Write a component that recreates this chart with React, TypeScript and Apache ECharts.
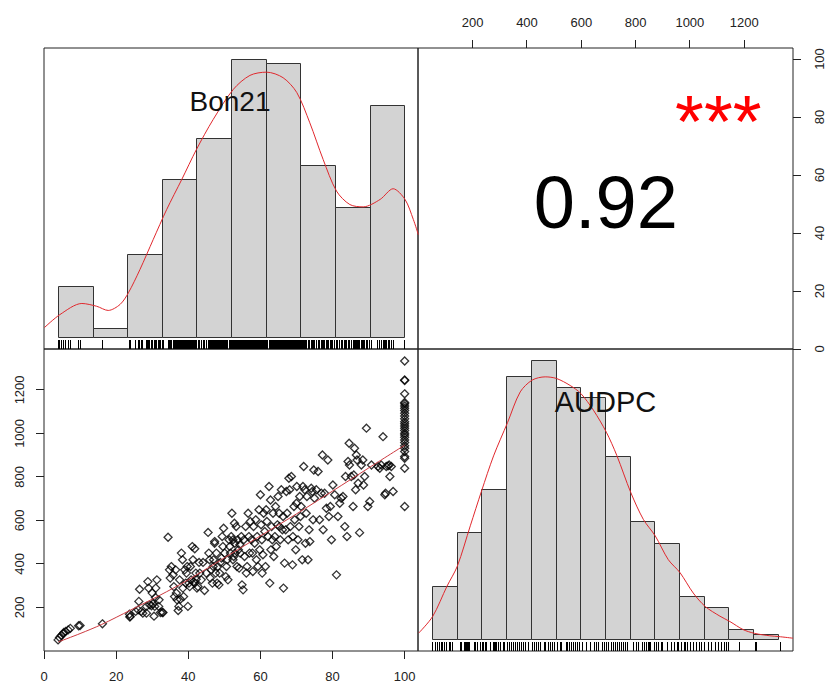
import React, { useEffect, useRef } from "react";
import * as echarts from "echarts";

// ---------- data ----------
const bon21Ticks = [0, 20, 40, 60, 80, 100];
const audpcTicks = [200, 400, 600, 800, 1000, 1200];

const bon21Breaks = [4, 13.6, 23.2, 32.8, 42.4, 52, 61.6, 71.2, 80.8, 90.4, 100];
const bon21Counts = [11, 2, 18, 34, 43, 60, 59, 37, 28, 50];

const audpcBreaks = [52, 143, 234, 325, 416, 507, 598, 689, 780, 871, 962, 1053, 1144, 1235, 1327];
const audpcCounts = [10, 20, 28, 49, 52, 47, 45, 34, 22, 18, 8, 6, 2, 1];

// density curves, scaled to histogram counts
const bon21Density: [number, number][] = [
  [0.1, 2.2], [4.4, 5.0], [10.5, 7.4], [14.6, 6.8], [17.8, 5.9], [21.1, 7.2], [23.4, 9.7],
  [26.6, 14.7], [30.3, 21.2], [34.0, 27.6], [38.2, 34.1], [42.3, 40.6], [46.9, 47.0],
  [52.5, 53.5], [57.1, 56.5], [61.7, 57.2], [66.3, 56.0], [70.1, 52.8], [73.7, 46.3],
  [77.4, 38.4], [81.1, 31.6], [84.8, 28.7], [88.5, 28.2], [93.2, 29.8], [96.8, 32.1],
  [100.1, 29.8], [102.4, 25.5], [103.8, 22.2],
];
const audpcDensity: [number, number][] = [
  [1, 1.25], [52.6, 4.35], [105.6, 10.0], [143.4, 13.7], [191.2, 21.2], [232.8, 27.7],
  [276.9, 34.2], [328.4, 40.4], [375.1, 46.1], [419.3, 48.3], [467.1, 48.9], [508.6, 48.6],
  [559, 47.3], [598.4, 45.8], [644.7, 42.7], [692.5, 38.6], [730.8, 34.3], [782.3, 27.4],
  [828.6, 22.4], [872.8, 19.3], [920.6, 14.9], [963.6, 12.5], [1012.5, 8.7], [1056.6, 6.2],
  [1110.7, 4.4], [1147.5, 3.4], [1196.4, 1.9], [1238.3, 1.2], [1294.6, 0.75], [1327.7, 0.6],
  [1380, 0.3],
];

// scatter: [Bon21, AUDPC]
const audpcVsBon21: [number, number][] = [
  [3.9, 51], [4.3, 62], [4.8, 71], [5.3, 79], [5.5, 85], [6.0, 90], [6.7, 97], [7.3, 104],
  [9.6, 116], [10.0, 117], [16.2, 125], [23.7, 169], [23.8, 156], [23.9, 159],
  [25.4, 182], [26.1, 189], [26.3, 228], [26.5, 284], [27.0, 182], [27.4, 174], [28.4, 174],
  [28.4, 205], [28.8, 319], [29.0, 289], [29.3, 212], [29.8, 208], [30.0, 266], [30.2, 217],
  [30.5, 160], [30.7, 205], [30.9, 246], [31.0, 289], [31.3, 327], [31.8, 205], [31.9, 235],
  [32.3, 177], [32.8, 177], [33.0, 177], [34.4, 523], [34.8, 373], [35.0, 335],
  [35.3, 388], [35.8, 350], [36.0, 296], [36.2, 250], [36.5, 373], [36.7, 266], [36.9, 235],
  [37.2, 186], [37.4, 205], [37.6, 327], [37.8, 238], [38.1, 450], [38.4, 419], [38.5, 289],
  [38.7, 250], [39.0, 373], [39.3, 312], [39.5, 358], [39.7, 388], [39.9, 205], [40.2, 312],
  [40.4, 296], [40.6, 388], [40.8, 327], [41.1, 480], [41.3, 419], [41.5, 319], [41.8, 470],
  [41.8, 312], [42.1, 358], [42.2, 330], [42.4, 289], [42.7, 296], [43.0, 407], [43.2, 358],
  [43.6, 327], [44.1, 407], [44.5, 278], [45.0, 358],
  [45.5, 545], [45.7, 450], [45.9, 419], [46.1, 335], [46.4, 373], [46.7, 312], [46.9, 388],
  [47.0, 419], [47.3, 495], [47.3, 503], [47.6, 358], [47.8, 450], [48.0, 312], [48.2, 388],
  [48.5, 304], [48.7, 358], [48.9, 407], [49.2, 427], [49.4, 526], [49.6, 480], [49.8, 564],
  [50.1, 450], [50.4, 342], [50.6, 388], [50.8, 419], [51.0, 327], [51.3, 511], [51.5, 480],
  [51.7, 450], [51.9, 526], [52.1, 633], [52.4, 511], [52.4, 419], [52.6, 434], [52.8, 587],
  [52.9, 495], [53.0, 450], [53.3, 572], [53.5, 388], [53.7, 511], [53.9, 465], [54.1, 381],
  [54.3, 488], [54.4, 450], [54.7, 526], [54.9, 304],
  [55.2, 281], [55.4, 511], [55.6, 434], [55.9, 572], [56.1, 358], [56.3, 388], [56.6, 633],
  [56.8, 526], [57.0, 450], [57.2, 595], [57.5, 511], [57.8, 450], [57.9, 365], [58.1, 572],
  [58.4, 495], [58.7, 603], [58.9, 419], [59.1, 526], [59.3, 388], [59.6, 649], [59.8, 465],
  [60.0, 718], [60.2, 580], [60.4, 511], [60.5, 358], [60.7, 442], [60.9, 633], [61.2, 549],
  [61.4, 388], [61.6, 649], [61.8, 595], [62.1, 526], [62.4, 756], [62.6, 312], [62.8, 694],
  [62.9, 465], [63.1, 572], [63.3, 511], [63.5, 633], [63.7, 434], [64.0, 526], [64.2, 664],
  [64.4, 480], [64.7, 580], [64.9, 710],
  [65.2, 633], [65.3, 572], [65.5, 511], [65.8, 741], [66.1, 557], [66.3, 618], [66.4, 289],
  [66.7, 404], [67.0, 557], [67.2, 733], [67.4, 633], [67.7, 511], [67.9, 794], [68.1, 741],
  [68.3, 572], [68.6, 802], [68.9, 396], [69.0, 526], [69.3, 664], [69.5, 603], [69.8, 465],
  [70.0, 679], [70.1, 756], [70.4, 511], [70.7, 572], [70.9, 710], [71.1, 618], [71.3, 664],
  [71.6, 419], [71.8, 756], [72.0, 848], [72.3, 741], [72.5, 495], [72.7, 633], [72.9, 710],
  [73.2, 419], [73.5, 557], [73.7, 503], [74.1, 748], [74.4, 733], [74.6, 603], [74.8, 832],
  [75.0, 702], [75.5, 741], [76.0, 825], [76.4, 603], [76.9, 725], [77.2, 901], [77.4, 557],
  [77.8, 725], [78.3, 656], [78.7, 878], [79.0, 618], [79.4, 664], [79.7, 511], [80.1, 763],
  [80.6, 718], [81.1, 350], [81.5, 618], [82.0, 679], [82.4, 702], [82.9, 710], [83.4, 572],
  [83.6, 802], [84.0, 526], [84.3, 871], [84.6, 955], [84.7, 855],
  [85.2, 802], [85.7, 664], [85.9, 809], [86.1, 932], [86.4, 741], [86.6, 901], [86.8, 878],
  [87.1, 771], [87.5, 544], [88.0, 855], [88.4, 878], [88.6, 763], [88.9, 802], [89.4, 1024],
  [89.8, 664], [90.3, 687], [90.8, 855], [92.6, 848], [93.1, 840], [93.5, 855], [94.0, 985],
  [94.5, 718], [94.7, 725], [94.9, 848], [95.4, 851], [95.7, 855], [95.9, 802], [96.3, 848],
  [96.8, 733],
  [100, 1333], [100, 1246], [100, 1243], [100, 1182], [100, 1142], [100, 1136], [100, 1126],
  [100, 1116], [100, 1105], [100, 1093], [100, 1080], [100, 1067], [100, 1054], [100, 1044],
  [100, 1034], [100, 1024], [100, 1013], [100, 1001], [100, 993], [100, 982], [100, 970],
  [100, 958], [100, 943], [100, 932], [100, 917], [100, 894], [100, 886], [100, 840], [100, 664],
];

// local smoother through the scatter
const smoothLine: [number, number][] = [
  [4, 42], [10, 80], [16, 122], [24, 188], [32, 255], [40, 327], [50, 428], [60, 529],
  [70, 630], [80, 735], [90, 841], [100, 946],
];

const varNames = ["Bon21", "AUDPC"];
const corrText = "0.92";
const signifText = "***";

// ---------- chart ----------
const FONT = '"Liberation Sans", Arial, Helvetica, sans-serif';
const bon21Values = audpcVsBon21.map((p) => p[0]);
const audpcValues = audpcVsBon21.map((p) => p[1]);

const crisp = (v: number) => Math.round(v - 0.5) + 0.5;

function histSeries(breaks: number[], counts: number[], axisIndex: number) {
  return {
    type: "custom",
    xAxisIndex: axisIndex,
    yAxisIndex: axisIndex,
    data: counts.map((c, i) => [breaks[i], breaks[i + 1], c]),
    encode: { x: [0, 1], y: 2 },
    silent: true,
    renderItem: (_params: any, api: any) => {
      const p0 = api.coord([api.value(0), 0]);
      const p1 = api.coord([api.value(1), api.value(2)]);
      const x0 = crisp(p0[0]);
      const x1 = crisp(p1[0]);
      const y0 = crisp(p0[1]);
      const y1 = crisp(p1[1]);
      return {
        type: "rect",
        shape: { x: x0, y: y1, width: x1 - x0, height: y0 - y1 },
        style: { fill: "#d3d3d3", stroke: "#333333", lineWidth: 1 },
      };
    },
    z: 2,
  };
}

// ticks (and rugs) drawn through the axis scale; side tells which edge of the grid
function tickSeries(values: number[], axisIndex: number, side: string, len: number, color: string) {
  return {
    type: "custom",
    xAxisIndex: axisIndex,
    yAxisIndex: axisIndex,
    data: values.map((v) => [v, v]),
    encode: { x: 0, y: 1 },
    clip: false,
    silent: true,
    z: 4,
    renderItem: (params: any, api: any) => {
      const cs = params.coordSys;
      const v = api.value(0);
      let shape: any;
      if (side === "top" || side === "bottom" || side === "rugBottom") {
        const x = crisp(api.coord([v, 0])[0]);
        const base = side === "top" ? cs.y : cs.y + cs.height;
        const dir = side === "bottom" ? 1 : -1;
        shape = { x1: x, y1: base, x2: x, y2: base + dir * len };
      } else {
        const y = crisp(api.coord([0, v])[1]);
        const base = side === "left" ? cs.x : cs.x + cs.width;
        const dir = side === "left" ? -1 : 1;
        shape = { x1: base, y1: y, x2: base + dir * len, y2: y };
      }
      return { type: "line", shape, style: { stroke: color, lineWidth: 1 } };
    },
  };
}

const labelStyle = {
  fontFamily: FONT,
  fontSize: 13,
  color: "#222",
  formatter: (v: number) => String(v),
};

export default function App() {
  const ref = useRef<HTMLDivElement>(null);
  useEffect(() => {
    if (!ref.current) return;
    const chart = echarts.init(ref.current, null, { renderer: "svg" });
    const maxB = Math.max(...bon21Counts);
    const maxA = Math.max(...audpcCounts);
    const option: any = {
      animation: false,
      backgroundColor: "#ffffff",
      grid: [
        { left: 44, top: 48, width: 374, height: 301 },
        { left: 418, top: 48, width: 375, height: 301 },
        { left: 44, top: 349, width: 374, height: 302 },
        { left: 418, top: 349, width: 375, height: 302 },
      ].map((g) => ({ ...g, show: true, borderColor: "#222", borderWidth: 1, containLabel: false })),
      xAxis: [
        {
          gridIndex: 0, type: "value", min: 0, max: 103.7, show: false,
        },
        {
          gridIndex: 1, type: "value", min: -1.5, max: 1380, position: "top",
          axisLine: { show: false }, splitLine: { show: false }, axisTick: { show: false },
          axisLabel: { ...labelStyle, margin: 19, customValues: audpcTicks },
        },
        {
          gridIndex: 2, type: "value", min: 0, max: 103.7, position: "bottom",
          axisLine: { show: false }, splitLine: { show: false }, axisTick: { show: false },
          axisLabel: { ...labelStyle, margin: 19, customValues: bon21Ticks },
        },
        {
          gridIndex: 3, type: "value", min: -1.5, max: 1380, show: false,
        },
      ],
      yAxis: [
        { gridIndex: 0, type: "value", min: -0.04 * maxB, max: 1.04 * maxB, show: false },
        {
          gridIndex: 1, type: "value", min: 0, max: 103.8, position: "right",
          axisLine: { show: false }, splitLine: { show: false }, axisTick: { show: false },
          axisLabel: { ...labelStyle, rotate: 90, margin: 20, customValues: bon21Ticks },
        },
        {
          gridIndex: 2, type: "value", min: 0, max: 1388, position: "left",
          axisLine: { show: false }, splitLine: { show: false }, axisTick: { show: false },
          axisLabel: { ...labelStyle, rotate: 90, margin: 18, customValues: audpcTicks },
        },
        { gridIndex: 3, type: "value", min: -0.04 * maxA, max: 1.04 * maxA, show: false },
      ],
      series: [
        histSeries(bon21Breaks, bon21Counts, 0),
        tickSeries(bon21Values, 0, "rugBottom", 9, "#000"),
        {
          type: "line", xAxisIndex: 0, yAxisIndex: 0, data: bon21Density, showSymbol: false,
          smooth: 0.3, lineStyle: { color: "#e0282d", width: 1 }, z: 3, silent: true,
        },
        tickSeries(audpcTicks, 1, "top", 8, "#222"),
        tickSeries(bon21Ticks, 1, "right", 8, "#222"),
        {
          type: "scatter", xAxisIndex: 2, yAxisIndex: 2, data: audpcVsBon21,
          symbol: "diamond", symbolSize: 8,
          itemStyle: { color: "rgba(0,0,0,0)", borderColor: "#000", borderWidth: 1.3 }, z: 2,
          silent: true,
        },
        {
          type: "line", xAxisIndex: 2, yAxisIndex: 2, data: smoothLine, showSymbol: false,
          smooth: 0.3, lineStyle: { color: "#cc3a40", width: 1 }, z: 3, silent: true,
        },
        tickSeries(bon21Ticks, 2, "bottom", 8, "#222"),
        tickSeries(audpcTicks, 2, "left", 8, "#222"),
        histSeries(audpcBreaks, audpcCounts, 3),
        tickSeries(audpcValues, 3, "rugBottom", 9, "#000"),
        {
          type: "line", xAxisIndex: 3, yAxisIndex: 3, data: audpcDensity, showSymbol: false,
          smooth: 0.3, lineStyle: { color: "#e0282d", width: 1 }, z: 3, silent: true,
        },
      ],
      graphic: [
        {
          type: "text", x: 230, y: 101.5, z: 10,
          style: { text: varNames[0], fontFamily: FONT, fontSize: 28, fill: "#111", align: "center", verticalAlign: "middle" },
        },
        {
          type: "text", x: 605.5, y: 402, z: 10,
          style: { text: varNames[1], fontFamily: FONT, fontSize: 29, fill: "#111", align: "center", verticalAlign: "middle" },
        },
        {
          type: "text", x: 605.8, y: 202, z: 10,
          style: { text: corrText, fontFamily: FONT, fontSize: 74, fill: "#000", align: "center", verticalAlign: "middle" },
        },
        {
          type: "text", x: 718.3, y: 121, z: 10,
          style: { text: signifText, fontFamily: FONT, fontSize: 74, fill: "#ff0000", align: "center", verticalAlign: "middle" },
        },
      ],
    };
    chart.setOption(option);
    return () => chart.dispose();
  }, []);
  return (
    <div
      ref={ref}
      style={{ position: "absolute", left: 0, top: 0, width: 827, height: 684, background: "#fff" }}
    />
  );
}
